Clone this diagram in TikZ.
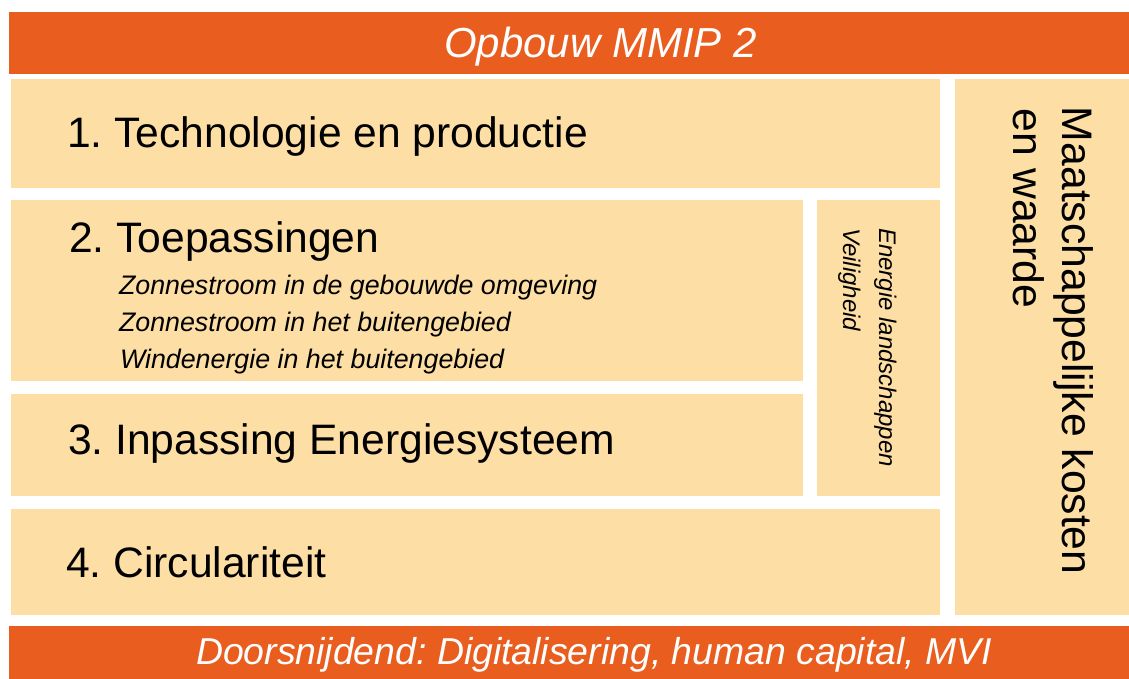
\documentclass[tikz,border=0pt]{standalone}
\usepackage{fontspec}
\setmainfont{Liberation Sans}
\frenchspacing
\definecolor{barorange}{HTML}{E95E1F}
\definecolor{panel}{HTML}{FDDEA4}
\begin{document}
\begin{tikzpicture}[x=1pt,y=-1pt,
  panelbox/.style={fill=panel,draw=none,inner sep=0,outer sep=0,anchor=north west},
  barbox/.style={fill=barorange,draw=none,inner sep=0,outer sep=0,anchor=north west},
  label/.style={inner sep=0,outer sep=0,anchor=base west,text=black},
  bigtext/.style={label,font=\fontsize{42.6}{50}\selectfont},
  subtext/.style={label,font=\fontsize{26.8}{32}\selectfont\itshape},
  bartext/.style={label,text=white,font=\itshape}]
  \useasboundingbox[fill=white] (0,0) rectangle (1129,679);

  % header and footer bars
  \node[barbox,minimum width=1120pt,minimum height=62pt] (top) at (9,12) {};
  \node[barbox,minimum width=1120pt,minimum height=53pt] (bottom) at (9,626) {};

  % panels
  \node[panelbox,minimum width=929pt,minimum height=109pt] (p1) at (11,79) {};
  \node[panelbox,minimum width=792pt,minimum height=181pt] (p2) at (11,200) {};
  \node[panelbox,minimum width=123pt,minimum height=296pt] (pe) at (817,200) {};
  \node[panelbox,minimum width=792pt,minimum height=102pt] (p3) at (11,394) {};
  \node[panelbox,minimum width=929pt,minimum height=106pt] (p4) at (11,509) {};
  \node[panelbox,minimum width=174pt,minimum height=536pt] (pr) at (955,79) {};

  % bar texts
  \node[bartext,font=\fontsize{42}{48}\selectfont\itshape] (ttitle) at (444,58) {Opbouw MMIP 2};
  \node[bartext,font=\fontsize{37.4}{44}\selectfont\itshape] (tfoot) at (196,664) {Doorsnijdend: Digitalisering, human capital, MVI};

  % panel headings
  \node[bigtext] (t1) at (67,148) {1. Technologie en productie};
  \node[bigtext] (t2) at (69,252) {2. Toepassingen};
  \node[bigtext] (t3) at (68,454) {3. Inpassing Energiesysteem};
  \node[bigtext] (t4) at (66,577) {4. Circulariteit};

  % application lines
  \node[subtext] (s1) at (119,294) {Zonnestroom in de gebouwde omgeving};
  \node[subtext] (s2) at (119,331) {Zonnestroom in het buitengebied};
  \node[subtext] (s3) at (120,368) {Windenergie in het buitengebied};

  % vertical texts
  \node[label,rotate=-90,font=\fontsize{24}{30}\selectfont\itshape] (e1) at (879,228) {Energie landschappen};
  \node[label,rotate=-90,font=\fontsize{24}{30}\selectfont\itshape] (e2) at (843,228) {Veiligheid};
  \node[label,rotate=-90,font=\fontsize{42.7}{50}\selectfont] (m1) at (1062,107) {Maatschappelijke kosten};
  \node[label,rotate=-90,font=\fontsize{42.7}{50}\selectfont] (m2) at (1013,109) {en waarde};
\end{tikzpicture}
\end{document}
